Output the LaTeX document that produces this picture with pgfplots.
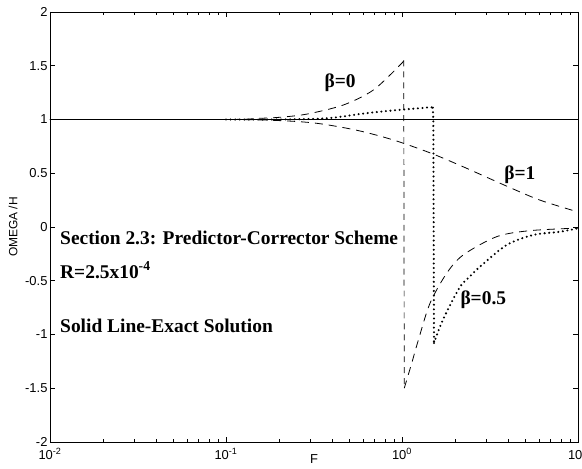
\documentclass[border=0pt]{standalone}
\usepackage{fontspec}
\setmainfont{Liberation Serif}
\setsansfont{Liberation Sans}
\usepackage{pgfplots}
\pgfplotsset{compat=1.18}
\tikzset{
  mydash/.style={black, line width=0.8pt, dash pattern=on 8pt off 6pt},
  mydot/.style={black, line width=2.3pt, line cap=round, dash pattern=on 0pt off 4.6pt},
  anno/.style={font=\bfseries\fontsize{19.5}{22}\selectfont},
}
\begin{document}
\begin{tikzpicture}
\useasboundingbox (-50bp,-27bp) rectangle (532bp,442bp);
\begin{axis}[
  at={(0,0)}, anchor=south west,
  scale only axis, width=528bp, height=430bp,
  xmode=log, xmin=0.01, xmax=10, ymin=-2, ymax=2,
  xtick={0.01,0.1,1,10},
  xticklabels={10\textsuperscript{-2},10\textsuperscript{-1},10\textsuperscript{0},10\textsuperscript{1}},
  ytick={-2,-1.5,-1,-0.5,0,0.5,1,1.5,2},
  yticklabels={-2,-1.5,-1,-0.5,0,0.5,1,1.5,2},
  tick label style={font=\sffamily\fontsize{13}{15}\selectfont},
  xticklabel style={yshift=-3pt},
  yticklabel style={xshift=1pt},
  tick align=inside,
  major tick length=5pt, minor tick length=3pt,
  axis line style={line width=0.8pt},
  every tick/.style={black, line width=0.6pt},
  xlabel={F}, ylabel={OMEGA /H},
  xlabel style={font=\sffamily\fontsize{13}{15}\selectfont, at={(axis description cs:0.5,0)}, anchor=north, yshift=-9pt},
  ylabel style={font=\sffamily\fontsize{12}{14}\selectfont, at={(axis description cs:0,0.5)}, anchor=south, yshift=29pt},
  clip=true,
]
% exact solution
\addplot[black, line width=1pt] coordinates {(0.01,1) (10,1)};
% beta = 0 upper
\addplot[mydash, smooth] coordinates {(0.01,1) (0.1,1.0) (0.15,1.01) (0.2,1.02) (0.2877,1.05) (0.4645,1.135) (0.687,1.274) (0.975,1.507) (1.023,1.55)};
\addplot[black, line width=0.7pt, dash pattern=on 6pt off 5pt] coordinates {(1.023,1.55) (1.03,-1.5)};
\addplot[mydash, smooth] coordinates {(1.03,-1.5) (1.135,-1.268) (1.239,-1.051) (1.442,-0.71) (1.795,-0.43) (2.228,-0.26) (3.451,-0.09) (5.333,-0.034) (10,-0.01)};
% beta = 1
\addplot[mydash, smooth] coordinates {(0.01,1) (0.1,1.0) (0.1995,0.99) (0.327,0.965) (0.553,0.9) (0.891,0.81) (1.442,0.69) (2.228,0.56) (3.936,0.38) (6.081,0.25) (10,0.14)};
% beta = 0.5
\addplot[mydot, smooth] coordinates {(0.1,1.0) (0.2,1.0) (0.373,1.011) (0.577,1.051) (0.818,1.079) (1.064,1.095) (1.442,1.113) (1.496,1.11)};
\addplot[mydot] coordinates {(1.496,1.11) (1.507,1.0) (1.52,-1.08)};
\addplot[mydot, smooth] coordinates {(1.52,-1.08) (1.644,-0.928) (1.795,-0.79) (2.138,-0.555) (2.432,-0.46) (2.773,-0.369) (3.936,-0.167) (5.572,-0.074) (7.907,-0.044) (10,-0.012)};
% annotations
\node[anno] at (axis cs:0.445,1.34) {β=0};
\node[anno] at (axis cs:4.677,0.484) {β=1};
\node[anno] at (axis cs:2.897,-0.68) {β=0.5};
\node[anno, anchor=west, inner sep=0pt] at (axis cs:0.0114,-0.10) {Section 2.3: Predictor-Corrector Scheme};
\node[anno, anchor=west, inner sep=0pt] at (axis cs:0.0114,-0.40) {R=2.5x10\textsuperscript{-4}};
\node[anno, anchor=west, inner sep=0pt] at (axis cs:0.0114,-0.92) {Solid Line-Exact Solution};
\end{axis}
\end{tikzpicture}
\end{document}
